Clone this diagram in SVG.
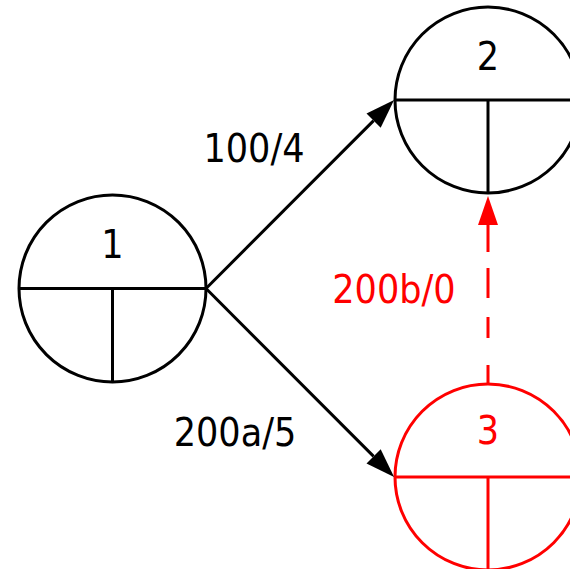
<svg xmlns="http://www.w3.org/2000/svg" width="570" height="569" viewBox="0 0 570 569">
  <style>
    .node { fill: #ffffff; stroke: #000000; stroke-width: 3; }
    .div { fill: none; stroke: #000000; stroke-width: 3; }
    .red .node, .red .div { stroke: #ff0000; }
    text { font-family: "DejaVu Sans Condensed", "DejaVu Sans", sans-serif; font-stretch: condensed; font-size: 39px; text-anchor: middle; fill: #000000; }
    .red text, text.red { fill: #ff0000; }
    .edge { fill: none; stroke: #000000; stroke-width: 3; }
    .edge.dash { stroke: #ff0000; stroke-dasharray: 18 27 21 19 30 16 27; }
  </style>
  <defs>
    <marker id="ah" markerUnits="userSpaceOnUse" markerWidth="30" markerHeight="20" refX="0" refY="10" orient="auto" overflow="visible">
      <polygon points="0,0 29,10 0,20" fill="#000000"/>
    </marker>
    <marker id="ahr" markerUnits="userSpaceOnUse" markerWidth="30" markerHeight="20" refX="0" refY="10" orient="auto" overflow="visible">
      <polygon points="0,0 29,10 0,20" fill="#ff0000"/>
    </marker>
  </defs>

  <g id="node1">
    <circle class="node" cx="112.5" cy="288.5" r="93.5"/>
    <line class="div" x1="19" y1="288.5" x2="206" y2="288.5"/>
    <line class="div" x1="112.5" y1="288.5" x2="112.5" y2="382"/>
    <text x="112.5" y="258">1</text>
  </g>

  <g id="node2">
    <circle class="node" cx="488" cy="100" r="93"/>
    <line class="div" x1="395" y1="100" x2="581" y2="100"/>
    <line class="div" x1="488" y1="100" x2="488" y2="193"/>
    <text x="488" y="70">2</text>
  </g>

  <g id="node3" class="red">
    <circle class="node" cx="488" cy="477" r="93"/>
    <line class="div" x1="395" y1="477" x2="581" y2="477"/>
    <line class="div" x1="488" y1="477" x2="488" y2="570"/>
    <text x="488" y="444">3</text>
  </g>

  <g id="connectors">
    <line class="edge" x1="206" y1="288.5" x2="373.6" y2="120.6" marker-end="url(#ah)"/>
    <line class="edge" x1="206" y1="288.5" x2="373.6" y2="456.4" marker-end="url(#ah)"/>
    <line class="edge dash" x1="488" y1="383" x2="488" y2="225" marker-end="url(#ahr)"/>
    <text x="254" y="162">100/4</text>
    <text x="235" y="446">200a/5</text>
    <text class="red" x="394" y="303">200b/0</text>
  </g>
</svg>
